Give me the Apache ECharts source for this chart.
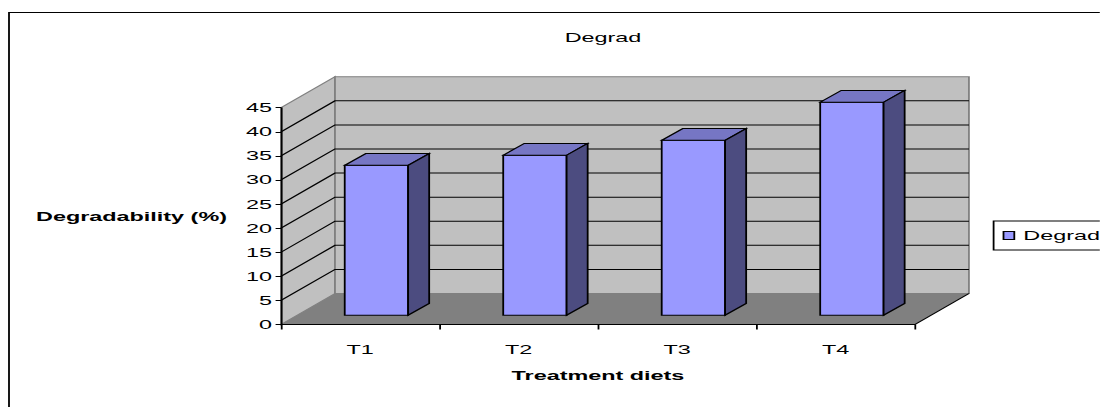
<!DOCTYPE html>
<html><head><meta charset="utf-8">
<script src="https://cdn.jsdelivr.net/npm/echarts@6/dist/echarts.min.js"></script>
<style>
html,body{margin:0;padding:0;background:#fff;overflow:hidden;width:1100px;height:407px}
#c{width:611px;height:407px;transform:scaleX(1.8);transform-origin:0 0;}
</style></head><body><div id="c"></div>
<script>
// ---- data ----
const categories = ['T1', 'T2', 'T3', 'T4'];
const degrad = [31.1, 33.2, 36.3, 44.2];
const yTicks = [0, 5, 10, 15, 20, 25, 30, 35, 40, 45];
const seriesName = 'Degrad';

// depth of the 3D box (logical px)
const DX = 30, DY = 31;
const FONT = "'Liberation Sans', Arial, sans-serif";

function renderWalls(params, api) {
  const cs = params.coordSys;
  const x0 = cs.x, x1 = cs.x + cs.width, yt = cs.y, yb = cs.y + cs.height;
  const ch = [];
  ch.push({type: 'polygon', shape: {points: [[x0, yb], [x0, yt], [x0 + DX, yt - DY], [x0 + DX, yb - DY]]},
    style: {fill: '#c0c0c0', stroke: '#808080', lineWidth: 1}});
  ch.push({type: 'rect', shape: {x: x0 + DX, y: yt - DY, width: cs.width, height: cs.height},
    style: {fill: '#c0c0c0', stroke: '#808080', lineWidth: 1}});
  ch.push({type: 'polygon', shape: {points: [[x0, yb], [x1, yb], [x1 + DX, yb - DY], [x0 + DX, yb - DY]]},
    style: {fill: '#808080'}});
  yTicks.forEach(function (v) {
    if (v === yTicks[0] || v === yTicks[yTicks.length - 1]) return;
    const y = api.coord([0, v])[1];
    ch.push({type: 'polyline', shape: {points: [[x0, y], [x0 + DX, y - DY], [x1 + DX, y - DY]]},
      style: {stroke: '#000', fill: null, lineWidth: 1}});
  });
  ch.push({type: 'line', shape: {x1: x1, y1: yb, x2: x1 + DX, y2: yb - DY}, style: {stroke: '#000', lineWidth: 1}});
  return {type: 'group', children: ch};
}

function renderBar(params, api) {
  const i = api.value(0), v = api.value(1);
  const base = api.coord([i, 0]);
  const top = api.coord([i, v]);
  const band = api.size([1, 0])[0];
  const fdx = DX * 0.3, fdy = DY * 0.3;
  const bdx = DX * 0.39, bdy = DY * 0.38;
  const L = base[0] - band * 0.2 + fdx, R = base[0] + band * 0.2 + fdx;
  const B = base[1] - fdy, T = top[1] - fdy;
  const st = {stroke: '#000', lineWidth: 1};
  return {type: 'group', children: [
    {type: 'polygon', shape: {points: [[L, B], [R, B], [R, T], [L, T]]}, style: Object.assign({fill: '#9999ff'}, st)},
    {type: 'polygon', shape: {points: [[L, T], [R, T], [R + bdx, T - bdy], [L + bdx, T - bdy]]}, style: Object.assign({fill: '#7676c4'}, st)},
    {type: 'polygon', shape: {points: [[R, T], [R + bdx, T - bdy], [R + bdx, B - bdy], [R, B]]}, style: Object.assign({fill: '#4c4c80'}, st)}
  ]};
}

const chart = echarts.init(document.getElementById('c'), null, {renderer: 'svg'});
chart.setOption({
  animation: false,
  backgroundColor: '#fff',
  title: {text: seriesName, left: 330, top: 26, textAlign: 'center',
    textStyle: {fontFamily: FONT, fontSize: 13, fontWeight: 'normal', color: '#000'}},
  legend: {data: [seriesName], left: 552, top: 221, orient: 'vertical',
    borderColor: '#000', borderWidth: 1, padding: [8, 40, 8, 5], backgroundColor: '#fff',
    icon: 'rect', itemWidth: 6, itemHeight: 8, itemStyle: {borderColor: '#000', borderWidth: 1},
    textStyle: {fontFamily: FONT, fontSize: 13, color: '#000'}},
  graphic: [{type: 'rect', shape: {x: 5, y: 12.5, width: 800, height: 600},
    style: {fill: null, stroke: '#000', lineWidth: 1}, silent: true}],
  grid: {left: 156.1, top: 107.7, width: 352.2, height: 216.8, containLabel: false},
  xAxis: {type: 'category', data: categories, boundaryGap: true, z: 10,
    name: 'Treatment diets', nameLocation: 'middle', nameGap: 45,
    nameTextStyle: {fontFamily: FONT, fontSize: 13, fontWeight: 'bold', color: '#000'},
    axisLine: {lineStyle: {color: '#000', width: 1}},
    axisTick: {show: true, length: 5, lineStyle: {color: '#000'}},
    axisLabel: {fontFamily: FONT, fontSize: 13, color: '#000', margin: 19},
    splitLine: {show: false}},
  yAxis: {type: 'value', min: 0, max: 45, interval: 5, z: 10,
    name: 'Degradability (%)', nameLocation: 'middle', nameRotate: 0, nameGap: 30,
    nameTextStyle: {fontFamily: FONT, fontSize: 13, fontWeight: 'bold', color: '#000', align: 'right', padding: [6, 0, 0, 0]},
    axisLine: {show: true, lineStyle: {color: '#000', width: 1}},
    axisTick: {show: true, length: 3, lineStyle: {color: '#000'}},
    axisLabel: {fontFamily: FONT, fontSize: 13, color: '#000', margin: 5},
    splitLine: {show: false}},
  series: [
    {type: 'custom', name: 'walls', silent: true, z: 1, clip: false, data: [[0, 0]], renderItem: renderWalls},
    {type: 'custom', name: seriesName, z: 3, clip: false,
      itemStyle: {color: '#9999ff', borderColor: '#000', borderWidth: 1},
      data: categories.map(function (c, i) { return [i, degrad[i]]; }), renderItem: renderBar}
  ]
});
</script></body></html>
